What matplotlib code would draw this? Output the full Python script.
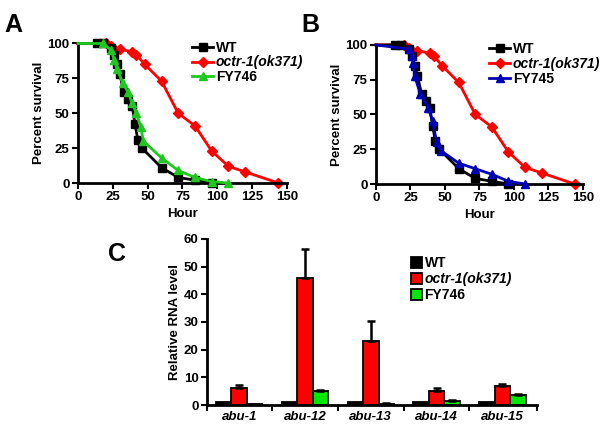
import matplotlib.pyplot as plt

plt.rcParams['font.family'] = ['Liberation Sans', 'DejaVu Sans']
plt.rcParams['font.weight'] = 'bold'
plt.rcParams['axes.labelweight'] = 'bold'

# Survival data (hours, percent survival)
wt_hours = [0, 14, 18, 24, 26, 28, 30, 33, 36, 39, 41, 43, 46, 60, 72, 84, 96]
wt_surv = [100, 100, 100, 97, 92, 85, 78, 65, 60, 55, 42, 31, 25, 11, 4, 2, 0]
octr_hours = [0, 20, 24, 30, 39, 42, 48, 60, 72, 84, 96, 108, 120, 144]
octr_surv = [100, 100, 98, 96, 94, 92, 85, 73, 50, 41, 23, 12, 8, 0]
fy746_hours = [0, 18, 24, 26, 28, 32, 36, 39, 42, 45, 47, 60, 72, 84, 96, 108]
fy746_surv = [100, 100, 95, 88, 82, 72, 65, 57, 50, 40, 30, 18, 9, 4, 1, 0]
fy745_hours = [0, 24, 26, 27, 28, 32, 38, 41, 44, 47, 60, 72, 84, 96, 108]
fy745_surv = [100, 97, 92, 87, 78, 65, 55, 45, 30, 24, 15, 11, 7, 2, 0]

# RNA levels
genes = ['abu-1', 'abu-12', 'abu-13', 'abu-14', 'abu-15']
rna_wt = [1, 1, 1, 1, 1]
rna_octr = [6, 46, 23, 5, 7]
rna_octr_err = [1.3, 10.5, 7.5, 1.0, 0.5]
rna_fy = [0.3, 5, 0.5, 1.5, 3.5]
rna_fy_err = [0.1, 0.3, 0.1, 0.2, 0.3]

RED = '#ff0000'
GREEN = '#1ec81e'
BLUE = '#0000b4'

fig = plt.figure(figsize=(6.07, 4.28), dpi=100)


def style(ax):
    for s in ['top', 'right']:
        ax.spines[s].set_visible(False)
    for s in ['left', 'bottom']:
        ax.spines[s].set_linewidth(2)
    ax.tick_params(width=1.5, length=4, labelsize=9.5, pad=2)


def survival(ax, third_h, third_s, third_label, third_color):
    skip = slice(1, None)  # no marker at the starting point
    ax.plot(wt_hours, wt_surv, '-s', color='black', ms=5.5, lw=2, label='WT',
            markevery=skip, clip_on=False, zorder=3)
    ax.plot(octr_hours, octr_surv, '-D', color=RED, ms=5, lw=2, label='octr-1(ok371)',
            markevery=skip, clip_on=False, zorder=2)
    ax.plot(third_h, third_s, '-^', color=third_color, ms=6, lw=2, label=third_label,
            markevery=skip, clip_on=False, zorder=4)
    ax.set_xlim(0, 150)
    ax.set_ylim(0, 100)
    ax.set_xticks([0, 25, 50, 75, 100, 125, 150])
    ax.set_yticks([0, 25, 50, 75, 100])
    ax.set_xlabel('Hour', fontsize=9.5, labelpad=3)
    ax.set_ylabel('Percent survival', fontsize=9.5, labelpad=2)
    style(ax)
    leg = ax.legend(loc='upper left', bbox_to_anchor=(0.52, 1.06), frameon=False, fontsize=10,
                    handlelength=1.5, handletextpad=0.2, labelspacing=0.05, borderaxespad=0)
    leg.get_texts()[1].set_style('italic')


axA = fig.add_axes([0.1285, 0.5724, 0.344, 0.326])
survival(axA, fy746_hours, fy746_surv, 'FY746', GREEN)
axB = fig.add_axes([0.6194, 0.570, 0.341, 0.325])
survival(axB, fy745_hours, fy745_surv, 'FY745', BLUE)

fig.text(0.008, 0.925, 'A', fontsize=18, fontweight='bold')
fig.text(0.497, 0.925, 'B', fontsize=18, fontweight='bold')
fig.text(0.178, 0.39, 'C', fontsize=18, fontweight='bold')

# Bar chart
axC = fig.add_axes([0.341, 0.0537, 0.544, 0.388])
w = 0.235
x = list(range(len(genes)))
ekw = dict(ecolor='black', elinewidth=1.8, capsize=3, capthick=1.8)
axC.bar([i - w for i in x], rna_wt, w, color='black', edgecolor='black', lw=1.3, label='WT')
axC.bar(x, rna_octr, w, color=RED, edgecolor='black', lw=1.3, label='octr-1(ok371)',
        yerr=[[0] * 5, rna_octr_err], error_kw=ekw)
axC.bar([i + w for i in x], rna_fy, w, color='#00e600', edgecolor='black', lw=1.3, label='FY746',
        yerr=[[0] * 5, rna_fy_err], error_kw=ekw)
axC.set_xlim(-0.49, 4.53)
axC.set_ylim(0, 60)
axC.set_yticks([0, 10, 20, 30, 40, 50, 60])
axC.set_xticks(x)
axC.set_xticklabels(genes, fontstyle='italic', fontsize=10.5)
axC.set_xticks([-0.49, 0.5, 1.5, 2.5, 3.5, 4.53], minor=True)
axC.set_ylabel('Relative RNA level', fontsize=9.5, labelpad=2)
style(axC)
axC.tick_params(axis='x', which='major', length=0, pad=4)
axC.tick_params(axis='x', which='minor', length=4, width=1.5)
legC = axC.legend(loc='upper left', bbox_to_anchor=(0.6, 0.93), frameon=False, fontsize=10,
                  handlelength=0.8, handleheight=0.8, handletextpad=0.2, labelspacing=0.15, borderaxespad=0)
legC.get_texts()[1].set_style('italic')

plt.savefig('out.png', dpi=100)
